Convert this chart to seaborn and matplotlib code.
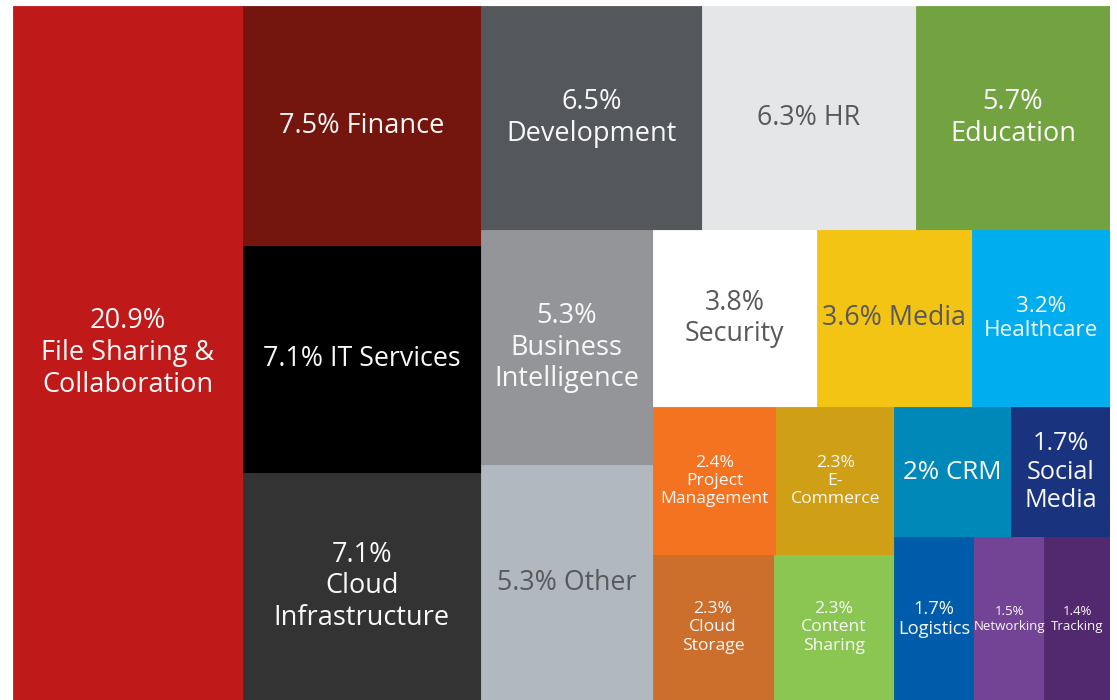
import matplotlib
matplotlib.use("Agg")
import matplotlib.pyplot as plt
import seaborn as sns

# share of cloud apps by category (%)
names = [
    "{}%\nFile Sharing &\nCollaboration", "{}% Finance", "{}% IT Services",
    "{}%\nCloud\nInfrastructure", "{}%\nDevelopment", "{}% HR", "{}%\nEducation",
    "{}%\nBusiness\nIntelligence", "{}% Other", "{}%\nSecurity", "{}% Media",
    "{}%\nHealthcare", "{}%\nProject\nManagement", "{}%\nE-\nCommerce",
    "{}%\nCloud\nStorage", "{}%\nContent\nSharing", "{}% CRM", "{}%\nSocial\nMedia",
    "{}%\nLogistics", "{}%\nNetworking", "{}%\nTracking",
]
values = [20.9, 7.5, 7.1, 7.1, 6.5, 6.3, 5.7, 5.3, 5.3, 3.8, 3.6,
          3.2, 2.4, 2.3, 2.3, 2.3, 2.0, 1.7, 1.7, 1.5, 1.4]

colors = ["#C0191A", "#74160E", "#000000", "#333333", "#54575B", "#E5E6E8",
          "#72A340", "#939598", "#B2B8BF", "#FFFFFF", "#F4C414", "#00AEEF",
          "#F37321", "#CF9F16", "#CC6E2C", "#8BC653", "#0089B8", "#1A337E",
          "#005BAA", "#734496", "#52286E"]
dark = "#58595B"
light = "#F8F8F8"
text_colors = [light, light, light, light, light, dark, light, light, dark,
               dark, dark, light, light, light, light, light, light, light,
               light, light, light]
font_sizes = [19.5, 19.5, 19.3, 19.5, 19.5, 19.3, 19.5, 19.5, 19.3, 19.3, 19.3,
              16.2, 12.6, 12.6, 12.6, 12.6, 18.7, 18.2, 13.2, 9.5, 9.5]

# how the tiles are nested: "cols" puts children side by side, "rows" stacks them
tree = ("cols", [
    0,
    ("rows", [1, 2, 3]),
    ("rows", [
        ("cols", [4, 5, 6]),
        ("cols", [
            ("rows", [7, 8]),
            ("rows", [
                ("cols", [9, 10, 11]),
                ("cols", [
                    ("rows", [("cols", [12, 13]), ("cols", [14, 15])]),
                    ("rows", [("cols", [16, 17]), ("cols", [18, 19, 20])]),
                ]),
            ]),
        ]),
    ]),
])


def node_total(node):
    if isinstance(node, int):
        return values[node]
    return sum(node_total(k) for k in node[1])


def place(node, x, y, w, h, out):
    if isinstance(node, int):
        out[node] = (x, y, w, h)
        return
    direction, kids = node
    total = node_total(node)
    for k in kids:
        share = node_total(k) / total
        if direction == "cols":
            place(k, x, y, w * share, h, out)
            x += w * share
        else:
            place(k, x, y, w, h * share, out)
            y += h * share


sns.set_theme(style="white")
plt.rcParams["font.family"] = ["Open Sans", "DejaVu Sans"]

fig = plt.figure(figsize=(11.17, 7.0), dpi=100)
ax = fig.add_axes([13 / 1117, 0, 1097 / 1117, 694 / 700])
W, H = 1097, 694

rects = {}
place(tree, 0, 0, W, H, rects)

for i in range(len(values)):
    x, y, w, h = rects[i]
    ax.bar(x, h, width=w, bottom=y, align="edge", color=colors[i],
           edgecolor=colors[i], linewidth=0.6)
    ax.text(x + w / 2, y + h / 2, names[i].format(f"{values[i]:g}"),
            ha="center", va="center", ma="center", color=text_colors[i],
            fontsize=font_sizes[i], linespacing=1.17)

ax.set_xlim(0, W)
ax.set_ylim(H, 0)
ax.axis("off")

fig.savefig("out.png", dpi=100)
